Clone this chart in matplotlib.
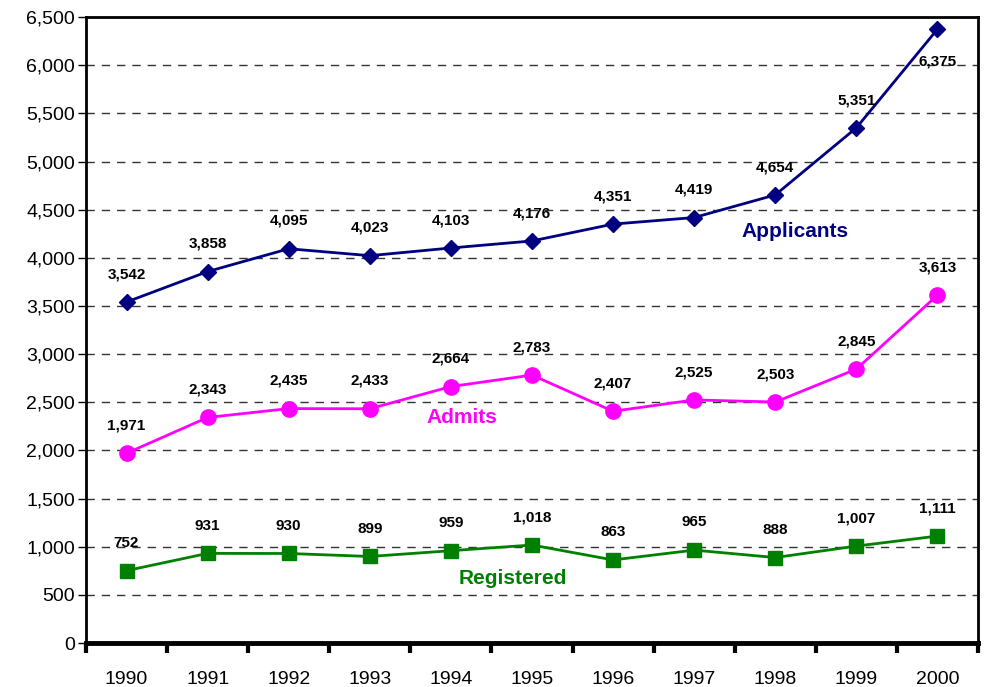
import numpy as np
import matplotlib
matplotlib.use("Agg")
import matplotlib.pyplot as plt
from matplotlib.ticker import FuncFormatter, FixedLocator

plt.rcParams['font.family'] = ['Liberation Sans', 'DejaVu Sans']

years = ['1990', '1991', '1992', '1993', '1994', '1995', '1996', '1997', '1998', '1999', '2000']
applicants = [3542, 3858, 4095, 4023, 4103, 4176, 4351, 4419, 4654, 5351, 6375]
admits = [1971, 2343, 2435, 2433, 2664, 2783, 2407, 2525, 2503, 2845, 3613]
registered = [752, 931, 930, 899, 959, 1018, 863, 965, 888, 1007, 1111]

fig = plt.figure(figsize=(9.84, 6.87), dpi=100)
ax = fig.add_axes([0.0874, 0.064, 0.9065, 0.911])

x = np.arange(len(years))

ax.plot(x, applicants, color='#000080', lw=2, marker='D', ms=8.5, zorder=3)
ax.plot(x, admits, color='#FF00FF', lw=2, marker='o', ms=11, zorder=3)
ax.plot(x, registered, color='#008000', lw=2, marker='s', ms=10, zorder=3)

# value labels
for series in (applicants, admits, registered):
    for i, v in enumerate(series):
        if v > 6000:
            ax.annotate(f'{v:,}', (i, v), xytext=(0, -23), textcoords='offset points',
                        ha='center', va='center', fontsize=11, fontweight='bold')
        else:
            ax.annotate(f'{v:,}', (i, v), xytext=(0, 20), textcoords='offset points',
                        ha='center', va='center', fontsize=11, fontweight='bold')

ax.text(8.25, 4278, 'Applicants', color='#000080', fontsize=15, fontweight='bold', ha='center', va='center')
ax.text(4.14, 2347, 'Admits', color='#FF00FF', fontsize=15, fontweight='bold', ha='center', va='center')
ax.text(4.76, 675, 'Registered', color='#008000', fontsize=15, fontweight='bold', ha='center', va='center')

ax.set_xlim(-0.5, 10.5)
ax.set_ylim(0, 6500)
ax.set_yticks(np.arange(0, 6501, 500))
ax.yaxis.set_major_formatter(FuncFormatter(lambda v, p: f'{int(v):,}'))
ax.tick_params(axis='y', labelsize=14, length=6, width=1, direction='out', pad=2)

ax.set_xticks(x)
ax.set_xticklabels(years)
ax.tick_params(axis='x', which='major', length=0, labelsize=14, pad=20)
ax.xaxis.set_minor_locator(FixedLocator(np.arange(-0.5, 10.6, 1)))
ax.tick_params(axis='x', which='minor', length=7, width=3, direction='out')

for yv in np.arange(500, 6500, 500):
    ax.axhline(yv, color='#333333', lw=1, ls=(0, (6, 5)), zorder=1)

for s in ax.spines.values():
    s.set_linewidth(2)
ax.spines['bottom'].set_linewidth(3.5)

fig.savefig('out.png', dpi=100)
